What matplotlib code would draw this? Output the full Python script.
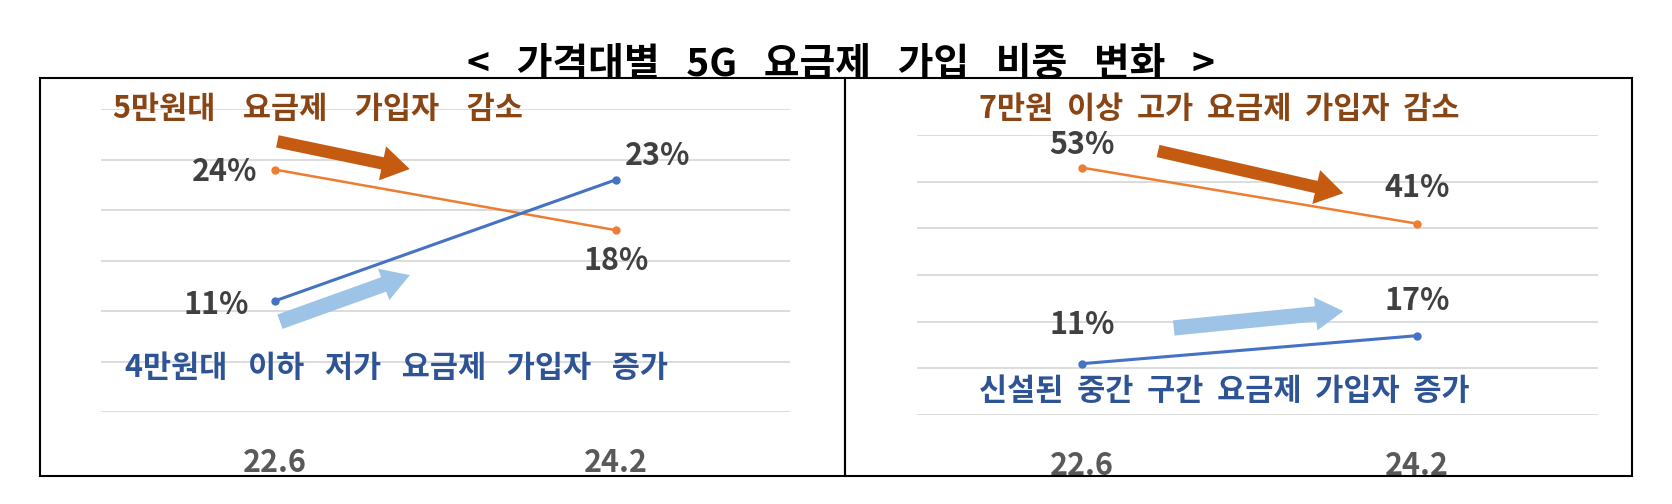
import matplotlib
matplotlib.use('Agg')
import matplotlib.pyplot as plt
from matplotlib.patches import Rectangle, FancyArrowPatch

plt.rcParams['font.family'] = ['Noto Sans CJK KR', 'DejaVu Sans']

# data
periods = ['22.6', '24.2']
left_high = [24, 18]     # 5만원대
left_low = [11, 23]      # 4만원대 이하
right_high = [53, 41]    # 7만원 이상
right_mid = [11, 17]     # 신설 중간 구간

title = '<   가격대별   5G   요금제   가입   비중   변화   >'
left_top_note = '5만원대    요금제    가입자    감소'
left_bot_note = '4만원대   이하   저가   요금제   가입자   증가'
right_top_note = '7만원  이상  고가  요금제  가입자  감소'
right_bot_note = '신설된  중간  구간  요금제  가입자  증가'

W, H = 1672, 504
fig = plt.figure(figsize=(W / 100, H / 100), dpi=100)

def fx(px):
    return px / W

def fy(py):
    return 1 - py / H

ORANGE = '#ED7D31'
BLUE = '#4472C4'
DARK_OR = '#C55A11'
LIGHT_BL = '#9DC3E6'
BROWN = '#8A4515'
NAVY = '#2F5496'
GRID = '#D9D9D9'
VAL = '#404040'
TICK = '#595959'

# panel frames
for x0, x1 in [(40, 845), (845, 1632)]:
    fig.patches.append(Rectangle((fx(x0), fy(476)), fx(x1) - fx(x0), fy(78) - fy(476),
                                 transform=fig.transFigure, fill=False,
                                 edgecolor='black', linewidth=1.5, zorder=5))

fig.text(0.503, fy(76), title, ha='center', va='baseline', fontsize=28,
         fontweight='bold', color='black')


def make_panel(rect, xlim, ylim, step, hi, lo, hi_offs, lo_offs):
    ax = fig.add_axes(rect)
    x = [0, 1]
    ax.set_xlim(*xlim)
    ax.set_ylim(*ylim)
    ax.set_yticks(range(ylim[0], ylim[1] + 1, step))
    ax.yaxis.grid(True, color=GRID, linewidth=1.3)
    ax.set_axisbelow(True)
    ax.tick_params(axis='y', length=0, labelleft=False)
    ax.tick_params(axis='x', length=0, pad=25)
    ax.set_xticks(x, periods)
    for lab in ax.get_xticklabels():
        lab.set_fontsize(22)
        lab.set_fontweight('bold')
        lab.set_color(TICK)
    for s in ax.spines.values():
        s.set_visible(False)
    ax.patch.set_alpha(0)
    ax.plot(x, hi, color=ORANGE, linewidth=1.8, marker='o', markersize=5, clip_on=False)
    ax.plot(x, lo, color=BLUE, linewidth=2.2, marker='o', markersize=5, clip_on=False)
    for xi, v, off in zip(x, hi, hi_offs):
        ax.annotate(f'{v}%', (xi, v), xytext=off[:2], textcoords='offset points',
                    ha=off[2], va='center', fontsize=22, fontweight='bold', color=VAL)
    for xi, v, off in zip(x, lo, lo_offs):
        ax.annotate(f'{v}%', (xi, v), xytext=off[:2], textcoords='offset points',
                    ha=off[2], va='center', fontsize=22, fontweight='bold', color=VAL)
    return ax


def arrow(ax, tail, tip, color, tw, hw, hl):
    ax.add_patch(FancyArrowPatch(tail, tip, transform=ax.transAxes,
                                 arrowstyle=f'simple,tail_width={tw},head_width={hw},head_length={hl}',
                                 mutation_scale=20, color=color, linewidth=0, zorder=1))


# left panel: 0..30 %, gridlines every 5
axl = make_panel([fx(101), fy(412), fx(790) - fx(101), fy(109) - fy(412)],
                 (-0.51, 1.51), (0, 30), 5, left_high, left_low,
                 [(-13, -2, 'right'), (0, -22, 'center')],
                 [(-19, -3, 'right'), (6, 17, 'left')])
arrow(axl, (0.252, 0.895), (0.452, 0.800), DARK_OR, 0.45, 1.25, 1.0)
arrow(axl, (0.256, 0.295), (0.452, 0.455), LIGHT_BL, 0.55, 1.2, 1.0)
fig.text(fx(113), fy(109), left_top_note, ha='left', va='center', fontsize=22,
         fontweight='bold', color=BROWN)
fig.text(fx(125), fy(368), left_bot_note, ha='left', va='center', fontsize=22,
         fontweight='bold', color=NAVY)

# right panel: 0..60 %, gridlines every 10
axr = make_panel([fx(917), fy(415), fx(1598) - fx(917), fy(135) - fy(415)],
                 (-0.493, 1.54), (0, 60), 10, right_high, right_mid,
                 [(0, 16, 'center'), (0, 26, 'center')],
                 [(0, 28, 'center'), (0, 25, 'center')])
arrow(axr, (0.350, 0.945), (0.630, 0.790), DARK_OR, 0.45, 1.25, 1.0)
arrow(axr, (0.373, 0.310), (0.630, 0.372), LIGHT_BL, 0.55, 1.2, 1.0)
fig.text(fx(979), fy(109), right_top_note, ha='left', va='center', fontsize=22,
         fontweight='bold', color=BROWN)
fig.text(fx(979), fy(391), right_bot_note, ha='left', va='center', fontsize=22,
         fontweight='bold', color=NAVY)

fig.savefig('out.png', dpi=100)
